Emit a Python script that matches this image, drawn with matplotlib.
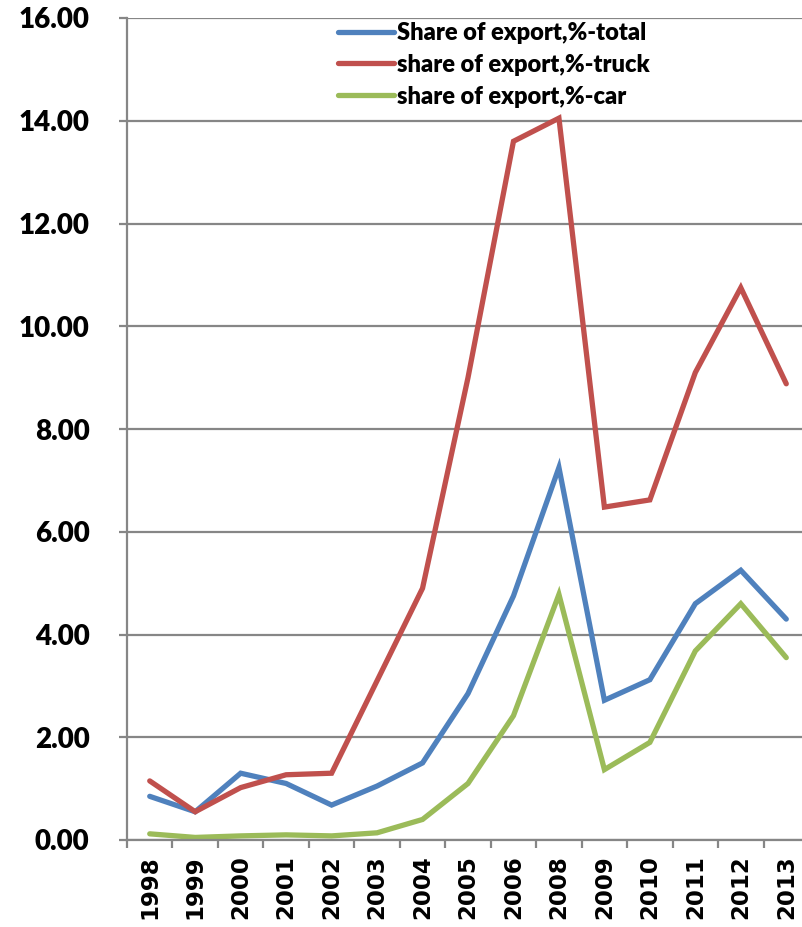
import numpy as np
import matplotlib.pyplot as plt

# share of export by year (2007 not reported)
years = ['1998', '1999', '2000', '2001', '2002', '2003', '2004', '2005',
         '2006', '2008', '2009', '2010', '2011', '2012', '2013']
share_total = [0.85, 0.55, 1.30, 1.10, 0.68, 1.05, 1.50, 2.85,
               4.75, 7.25, 2.72, 3.12, 4.60, 5.25, 4.30]
share_truck = [1.15, 0.55, 1.02, 1.27, 1.30, 3.10, 4.90, 9.00,
               13.60, 14.05, 6.48, 6.62, 9.10, 10.75, 8.88]
share_car = [0.12, 0.05, 0.08, 0.10, 0.08, 0.14, 0.40, 1.10,
             2.42, 4.78, 1.37, 1.90, 3.68, 4.60, 3.55]

labels = ['Share of export,%-total', 'share of export,%-truck',
          'share of export,%-car']
colors = ['#4F81BD', '#C0504D', '#9BBB59']
grid_c = '#868686'

W, H = 802, 927
fig = plt.figure(figsize=(W / 100, H / 100), dpi=100)
ax = fig.add_axes([127 / W, (H - 840) / H, 682 / W, 822 / H])

x = np.arange(len(years))
for vals, c, lab in zip([share_total, share_truck, share_car], colors, labels):
    ax.plot(x, vals, color=c, lw=3.8, label=lab, solid_capstyle='round',
            solid_joinstyle='miter')

ax.set_xlim(-0.5, len(years) - 0.5)
ax.set_ylim(0, 16)
ax.set_yticks(np.arange(0, 16.1, 2))
ax.set_yticklabels([f'{v:.2f}' for v in np.arange(0, 16.1, 2)],
                   fontfamily='Lato', fontweight='heavy', fontsize=20)
ax.yaxis.grid(True, color=grid_c, lw=1.6)
ax.set_axisbelow(True)

# tick marks sit between categories, labels at category centres
ax.set_xticks(np.arange(-0.5, len(years), 1))
ax.set_xticklabels([])
ax.set_xticks(x, minor=True)
ax.set_xticklabels(years, minor=True, rotation=90, fontfamily='DejaVu Sans',
                   fontweight='bold', fontsize=16.5)
ax.tick_params(axis='x', which='major', length=6, width=1.6, color=grid_c,
               direction='out')
ax.tick_params(axis='x', which='minor', length=0, pad=11)
ax.tick_params(axis='y', length=6, width=1.6, color=grid_c, pad=21)

for s in ['top', 'right']:
    ax.spines[s].set_visible(False)
for s in ['left', 'bottom']:
    ax.spines[s].set_color(grid_c)
    ax.spines[s].set_linewidth(1.6)

fig.legend(loc='upper left', bbox_to_anchor=(326 / W, 1 - 10 / H),
           frameon=False, prop={'family': 'Lato', 'weight': 'heavy', 'size': 17},
           handlelength=2.4, handletextpad=0.1, labelspacing=0.42,
           borderpad=0)

fig.savefig('out.png', dpi=100)
